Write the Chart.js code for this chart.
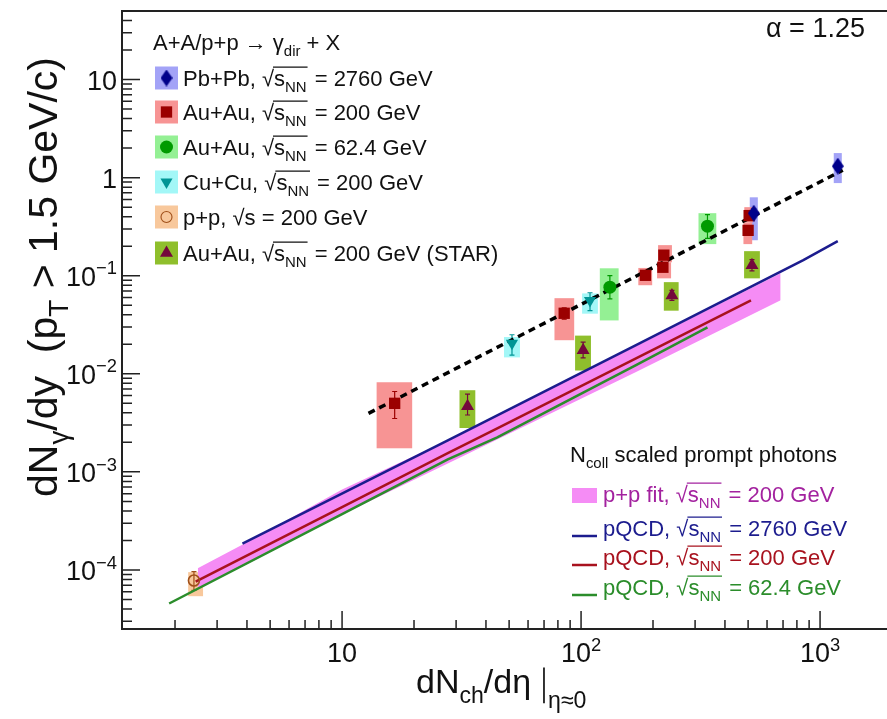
<!DOCTYPE html>
<html>
<head>
  <meta charset="UTF-8">
  <title>Direct photon yield vs dNch/deta</title>
  <script src="https://cdn.jsdelivr.net/npm/chart.js"></script>
  <style>
    html, body {
      margin: 0;
      padding: 0;
      background: #fff;
      overflow: hidden;
    }
    #wrap {
      width: 900px;
      height: 719px;
    }
  </style>
</head>
<body>
  <div id="wrap"><canvas id="photonChart" width="900" height="719"></canvas></div>

  <script>
    const FONT = '"Liberation Sans", Arial, Helvetica, sans-serif';

    // axis ranges and labelled ticks
    const xMin = 1.2, xMax = 2000;
    const yMin = 2.5e-5, yMax = 50;
    const xTickValues = [10, 100, 1000];
    const xTickLabels = [['10', ''], ['10', '2'], ['10', '3']];
    const yTickValues = [10, 1, 0.1, 0.01, 0.001, 0.0001];
    const yTickLabels = [['10', ''], ['1', ''], ['10', '\u22121'], ['10', '\u22122'], ['10', '\u22123'], ['10', '\u22124']];

    // measured yields: stat = [low, high], sys box = [xLow, xHigh, yLow, yHigh]
    const pbpbX = [528, 1186];
    const pbpbY = [0.434, 1.31];
    const pbpbStat = [[0.39, 0.48], [1.2, 1.42]];
    const pbpbSys = [[508, 549, 0.23, 0.63], [1141, 1233, 0.88, 1.78]];

    const auau200X = [16.6, 85, 186, 222, 220, 505, 500];
    const auau200Y = [0.0050, 0.0414, 0.101, 0.162, 0.122, 0.41, 0.29];
    const auau200Stat = [[0.0035, 0.0066], [0.036, 0.047], [0.094, 0.108], [0.15, 0.175], [0.113, 0.132], [0.38, 0.44], [0.27, 0.31]];
    const auau200Sys = [[13.95, 19.65, 0.00174, 0.0082], [77.4, 93.6, 0.022, 0.059], [173.6, 198.4, 0.08, 0.12],
                        [210, 240, 0.137, 0.205], [208, 238, 0.094, 0.137], [482, 524, 0.35, 0.50], [478, 520, 0.21, 0.35]];

    const auau62X = [132, 338];
    const auau62Y = [0.0764, 0.32];
    const auau62Stat = [[0.058, 0.1], [0.24, 0.42]];
    const auau62Sys = [[119.8, 143.6, 0.035, 0.119], [310, 368, 0.21, 0.434]];

    const cucuX = [51.4, 109];
    const cucuY = [0.0205, 0.056];
    const cucuStat = [[0.0155, 0.025], [0.044, 0.067]];
    const cucuSys = [[47.6, 55.5, 0.0147, 0.0237], [101, 117.6, 0.041, 0.066]];

    const ppX = [2.4];
    const ppY = [7.8e-5];
    const ppStat = [[6.2e-5, 9.6e-5]];
    const ppSys = [[2.27, 2.62, 5.4e-5, 9.5e-5]];

    const starX = [33.5, 102, 240, 519];
    const starY = [0.00466, 0.0174, 0.063, 0.128];
    const starStat = [[0.0038, 0.0062], [0.0145, 0.021], [0.056, 0.071], [0.112, 0.146]];
    const starSys = [[31, 36.1, 0.0028, 0.0068], [94.4, 110, 0.0108, 0.0245], [222, 256, 0.044, 0.086], [481, 560, 0.094, 0.178]];

    // power-law fit, alpha = 1.25
    const fitX = [12.9, 1245];
    const fitY = [0.00395, 1.19];

    // Ncoll scaled prompt photons
    const bandX = [2.49, 4.13, 10, 27.7, 169, 684];
    const bandHi = [1.04e-4, 2.0e-4, 6.63e-4, 2.1e-3, 0.0191, 0.106];
    const bandLo = [6.47e-5, 1.19e-4, 3.68e-4, 1.22e-3, 0.01035, 0.0562];
    const pqcd2760X = [3.83, 27.7, 44.6, 169, 851, 1186];
    const pqcd2760Y = [1.86e-4, 2.1e-3, 3.77e-3, 0.0195, 0.144, 0.225];
    const pqcd200X = [2.44, 10, 27.7, 44.6, 514];
    const pqcd200Y = [7.6e-5, 4.37e-4, 1.55e-3, 2.78e-3, 0.056];
    const pqcd62X = [1.89, 10, 27.7, 44.6, 169, 338];
    const pqcd62Y = [4.55e-5, 3.7e-4, 1.34e-3, 2.25e-3, 0.0122, 0.0298];

    const pts = (xs, ys) => xs.map((x, i) => ({ x: x, y: ys[i] }));

    function makeDiamond(w, h, color) {
      const c = document.createElement('canvas');
      c.width = w; c.height = h;
      const g = c.getContext('2d');
      g.fillStyle = color;
      g.beginPath();
      g.moveTo(w / 2, 0); g.lineTo(w, h / 2); g.lineTo(w / 2, h); g.lineTo(0, h / 2);
      g.closePath();
      g.fill();
      return c;
    }

    const series = [
      { name: 'pbpb', xs: pbpbX, ys: pbpbY, stat: pbpbStat, sys: pbpbSys, color: '#00008b', box: '#a3a3f7',
        style: makeDiamond(12, 17, '#00008b'), radius: 8 },
      { name: 'auau200', xs: auau200X, ys: auau200Y, stat: auau200Stat, sys: auau200Sys, color: '#9b0000', box: '#f79494',
        style: 'rect', radius: 8 },
      { name: 'auau62', xs: auau62X, ys: auau62Y, stat: auau62Stat, sys: auau62Sys, color: '#009a00', box: '#94f094',
        style: 'circle', radius: 6.5 },
      { name: 'cucu', xs: cucuX, ys: cucuY, stat: cucuStat, sys: cucuSys, color: '#009595', box: '#a3f7f7',
        style: 'triangle', radius: 7, rotation: 180 },
      { name: 'pp', xs: ppX, ys: ppY, stat: ppStat, sys: ppSys, color: '#a0501a', box: '#f8c89c',
        style: 'circle', radius: 5.5, open: true },
      { name: 'star', xs: starX, ys: starY, stat: starStat, sys: starSys, color: '#74083c', box: '#8fbf2c',
        style: 'triangle', radius: 7.5 }
    ];

    // text with sub/superscripts, square roots and a tall bar
    function drawRich(ctx, parts, x, y, size, color, draw) {
      if (draw === undefined) draw = true;
      let cx = x;
      ctx.fillStyle = color;
      ctx.strokeStyle = color;
      for (const p of parts) {
        if (typeof p === 'string') {
          ctx.font = size + 'px ' + FONT;
          if (draw) ctx.fillText(p, cx, y);
          cx += ctx.measureText(p).width;
        } else if (p.sub !== undefined) {
          ctx.font = (size * 0.68) + 'px ' + FONT;
          if (draw) ctx.fillText(p.sub, cx, y + size * (p.drop || 0.28));
          cx += ctx.measureText(p.sub).width;
        } else if (p.sup !== undefined) {
          ctx.font = (size * 0.68) + 'px ' + FONT;
          if (draw) ctx.fillText(p.sup, cx, y - size * 0.42);
          cx += ctx.measureText(p.sup).width;
        } else if (p.sqrt) {
          ctx.font = size + 'px ' + FONT;
          const rw = ctx.measureText('\u221A').width;
          if (draw) ctx.fillText('\u221A', cx, y);
          const start = cx + rw;
          const end = start + drawRich(ctx, p.sqrt, start, y, size, color, draw);
          if (draw) {
            ctx.lineWidth = Math.max(1, size * 0.05);
            ctx.beginPath();
            ctx.moveTo(start - 1, y - size * 0.86);
            ctx.lineTo(end + 1, y - size * 0.86);
            ctx.stroke();
          }
          cx = end + 2;
        } else if (p.bar) {
          if (draw) {
            ctx.lineWidth = Math.max(1, size * 0.05);
            ctx.beginPath();
            ctx.moveTo(cx + size * 0.1, y - size * 0.75);
            ctx.lineTo(cx + size * 0.1, y + size * 0.3);
            ctx.stroke();
          }
          cx += size * 0.22;
        }
      }
      return cx - x;
    }

    const NN = { sqrt: ['s', { sub: 'NN' }] };

    // sys boxes and stat bars under everything else
    const errorPlugin = {
      id: 'errorBoxes',
      beforeDatasetsDraw(chart) {
        const ctx = chart.ctx, xs = chart.scales.x, ys = chart.scales.y;
        const a = chart.chartArea;
        ctx.save();
        ctx.beginPath();
        ctx.rect(a.left, a.top, a.right - a.left, a.bottom - a.top);
        ctx.clip();
        series.forEach(s => {
          ctx.fillStyle = s.box;
          s.sys.forEach(b => {
            const x0 = xs.getPixelForValue(b[0]), x1 = xs.getPixelForValue(b[1]);
            const y0 = ys.getPixelForValue(b[3]), y1 = ys.getPixelForValue(b[2]);
            ctx.fillRect(x0, y0, x1 - x0, y1 - y0);
          });
        });
        series.forEach(s => {
          ctx.strokeStyle = s.color;
          ctx.lineWidth = 1.2;
          s.stat.forEach((e, i) => {
            const px = xs.getPixelForValue(s.xs[i]);
            const yt = ys.getPixelForValue(e[1]), yb = ys.getPixelForValue(e[0]);
            ctx.beginPath();
            ctx.moveTo(px, yt); ctx.lineTo(px, yb);
            ctx.moveTo(px - 2.5, yt); ctx.lineTo(px + 2.5, yt);
            ctx.moveTo(px - 2.5, yb); ctx.lineTo(px + 2.5, yb);
            ctx.stroke();
          });
        });
        ctx.restore();
      }
    };

    function drawMarker(ctx, s, x, y) {
      ctx.save();
      ctx.fillStyle = s.open ? 'rgba(0,0,0,0)' : s.color;
      ctx.strokeStyle = s.color;
      Chart.helpers.drawPoint(ctx, {
        pointStyle: s.style, radius: s.radius, rotation: s.rotation || 0, borderWidth: s.open ? 1.6 : 0
      }, x, y);
      ctx.restore();
    }

    // frame, inner ticks, labels, titles and both legends
    const framePlugin = {
      id: 'rootFrame',
      afterDraw(chart) {
        const ctx = chart.ctx, xs = chart.scales.x, ys = chart.scales.y;
        const a = chart.chartArea;
        ctx.save();

        ctx.strokeStyle = '#222';
        ctx.lineWidth = 2;
        ctx.strokeRect(a.left, a.top, a.right - a.left, a.bottom - a.top);

        ctx.lineWidth = 1.5;
        ctx.beginPath();
        const decades = (min, max, cb) => {
          for (let e = Math.floor(Math.log10(min)); e <= Math.ceil(Math.log10(max)); e++) {
            for (let m = 1; m <= 9; m++) {
              const v = m * Math.pow(10, e);
              if (v >= min && v <= max) cb(v, m === 1);
            }
          }
        };
        decades(xMin, xMax, (v, major) => {
          const px = xs.getPixelForValue(v);
          ctx.moveTo(px, a.bottom);
          ctx.lineTo(px, a.bottom - (major ? 18 : 9));
        });
        decades(yMin, yMax, (v, major) => {
          const py = ys.getPixelForValue(v);
          ctx.moveTo(a.left, py);
          ctx.lineTo(a.left + (major ? 18 : 10), py);
        });
        ctx.stroke();

        // tick labels
        const tickSize = 27;
        ctx.textBaseline = 'alphabetic';
        xTickValues.forEach((v, i) => {
          const lab = [xTickLabels[i][0], { sup: xTickLabels[i][1] }];
          const w = drawRich(ctx, lab, 0, 0, tickSize, '#111', false);
          drawRich(ctx, lab, xs.getPixelForValue(v) - w / 2, 662, tickSize, '#111');
        });
        yTickValues.forEach((v, i) => {
          const lab = [yTickLabels[i][0], { sup: yTickLabels[i][1] }];
          const w = drawRich(ctx, lab, 0, 0, tickSize, '#111', false);
          drawRich(ctx, lab, 117 - w, ys.getPixelForValue(v) + 10, tickSize, '#111');
        });

        // axis titles
        drawRich(ctx, ['dN', { sub: 'ch' }, '/d\u03B7 ', { bar: true }, { sub: '\u03B7\u22480', drop: 0.45 }], 416, 693, 34, '#111');
        ctx.save();
        ctx.translate(57, 497);
        ctx.rotate(-Math.PI / 2);
        drawRich(ctx, ['dN', { sub: '\u03B3' }, '/dy  (p', { sub: 'T' }, ' > 1.5 GeV/c)'], 0, 0, 41, '#111');
        ctx.restore();

        drawRich(ctx, ['\u03B1 = 1.25'], 766, 37, 27, '#111');

        // measured data legend
        const legSize = 22;
        drawRich(ctx, ['A+A/p+p \u2192 \u03B3', { sub: 'dir' }, ' + X'], 153, 50, legSize, '#111');
        const legText = [
          ['Pb+Pb, ', NN, ' = 2760 GeV'],
          ['Au+Au, ', NN, ' = 200 GeV'],
          ['Au+Au, ', NN, ' = 62.4 GeV'],
          ['Cu+Cu, ', NN, ' = 200 GeV'],
          ['p+p, \u221As = 200 GeV'],
          ['Au+Au, ', NN, ' = 200 GeV (STAR)']
        ];
        const rowY = [78, 112, 147, 182, 217, 253];
        series.forEach((s, i) => {
          ctx.fillStyle = s.box;
          ctx.fillRect(155, rowY[i] - 11.5, 23, 23);
          drawMarker(ctx, s, 166.5, rowY[i]);
          drawRich(ctx, legText[i], 183, rowY[i] + 8, legSize, '#111');
        });

        // prompt photon legend
        const modSize = 22;
        drawRich(ctx, ['N', { sub: 'coll' }, ' scaled prompt photons'], 570, 462, modSize, '#111');
        ctx.fillStyle = '#f58cf5';
        ctx.fillRect(572, 488, 25, 15);
        drawRich(ctx, ['p+p fit, ', NN, ' = 200 GeV'], 603, 502, modSize, '#a3229f');
        const modLines = [
          { y: 536, color: '#1c1c8e', text: ['pQCD, ', NN, ' = 2760 GeV'] },
          { y: 565, color: '#a8121e', text: ['pQCD, ', NN, ' = 200 GeV'] },
          { y: 595, color: '#2b8d2b', text: ['pQCD, ', NN, ' = 62.4 GeV'] }
        ];
        modLines.forEach(m => {
          ctx.strokeStyle = m.color;
          ctx.lineWidth = 2.5;
          ctx.beginPath();
          ctx.moveTo(572, m.y); ctx.lineTo(597, m.y);
          ctx.stroke();
          drawRich(ctx, m.text, 603, m.y, modSize, m.color);
        });

        ctx.restore();
      }
    };

    const lineDs = (label, data, color, extra) => Object.assign({
      type: 'line', label: label, data: data, borderColor: color, borderWidth: 2.5,
      pointRadius: 0, fill: false, tension: 0, order: 1
    }, extra || {});

    const datasets = [
      lineDs('p+p fit upper', pts(bandX, bandHi), 'rgba(0,0,0,0)',
        { borderWidth: 0, fill: '+1', backgroundColor: '#f58cf5', order: 2 }),
      lineDs('p+p fit lower', pts(bandX, bandLo), 'rgba(0,0,0,0)', { borderWidth: 0, order: 2 }),
      lineDs('pQCD 62.4 GeV', pts(pqcd62X, pqcd62Y), '#2b8d2b'),
      lineDs('pQCD 200 GeV', pts(pqcd200X, pqcd200Y), '#a8121e'),
      lineDs('pQCD 2760 GeV', pts(pqcd2760X, pqcd2760Y), '#1c1c8e'),
      lineDs('fit', pts(fitX, fitY), '#000', { borderWidth: 3.5, borderDash: [7, 5] })
    ];
    series.forEach(s => {
      datasets.push({
        type: 'scatter',
        label: s.name,
        data: pts(s.xs, s.ys),
        pointStyle: s.style,
        pointRadius: s.radius,
        pointRotation: s.rotation || 0,
        backgroundColor: s.open ? 'rgba(0,0,0,0)' : s.color,
        borderColor: s.color,
        borderWidth: s.open ? 1.6 : 0,
        order: 0
      });
    });

    new Chart(document.getElementById('photonChart'), {
      type: 'scatter',
      data: { datasets: datasets },
      options: {
        responsive: false,
        animation: false,
        devicePixelRatio: 1,
        layout: { padding: { left: 122, top: 11, right: 0, bottom: 90 } },
        scales: {
          x: { type: 'logarithmic', min: xMin, max: xMax, display: false },
          y: { type: 'logarithmic', min: yMin, max: yMax, display: false }
        },
        plugins: {
          legend: { display: false },
          tooltip: { enabled: false }
        }
      },
      plugins: [errorPlugin, framePlugin]
    });
  </script>
</body>
</html>
